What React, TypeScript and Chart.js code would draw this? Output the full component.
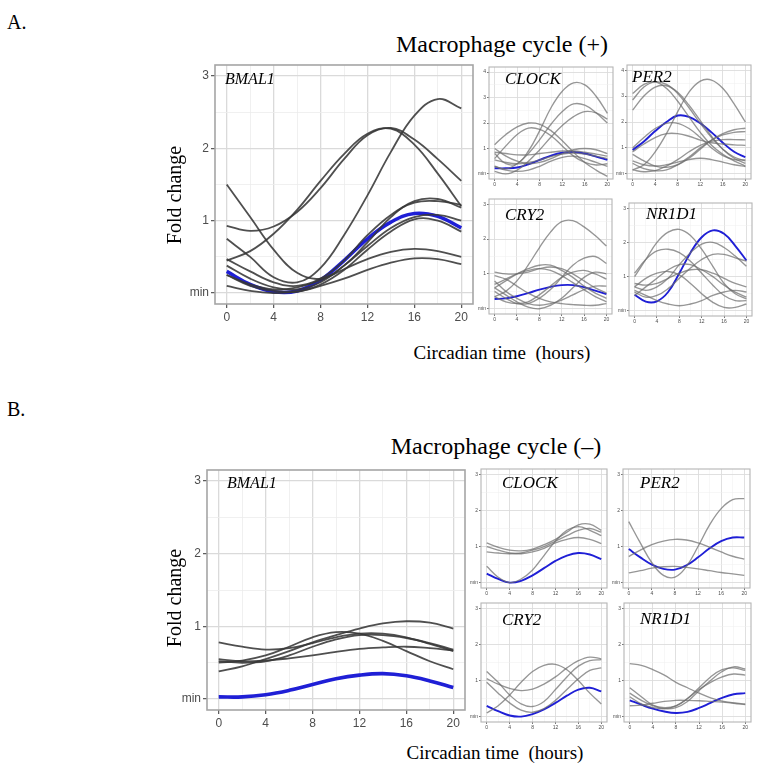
import React, { useEffect, useRef } from "react";
import { Chart, registerables } from "chart.js";
Chart.register(...registerables);

// ---------- data (fold change at circadian hours) ----------
const hours = [0, 2, 4, 6, 8, 10, 12, 14, 16, 18, 20];
const xMajorTicks = [0, 4, 8, 12, 16, 20];

// A. Macrophage cycle (+)
const aBmal1Blue = [0.3, 0.12, 0.02, 0.03, 0.18, 0.45, 0.75, 0.98, 1.1, 1.06, 0.9];
const aBmal1Grey = [
  [0.93, 0.86, 0.92, 1.12, 1.45, 1.85, 2.18, 2.28, 2.12, 1.85, 1.55],
  [0.45, 0.58, 0.82, 1.15, 1.55, 1.92, 2.2, 2.27, 2.05, 1.65, 1.2],
  [0.75, 0.5, 0.22, 0.15, 0.35, 0.8, 1.35, 1.95, 2.45, 2.68, 2.55],
  [1.5, 1.05, 0.6, 0.28, 0.2, 0.38, 0.7, 1.05, 1.27, 1.3, 1.18],
  [0.47, 0.3, 0.15, 0.1, 0.2, 0.45, 0.8, 1.08, 1.25, 1.27, 1.22],
  [0.38, 0.2, 0.08, 0.05, 0.15, 0.38, 0.65, 0.9, 1.05, 1.08, 1.0],
  [0.25, 0.1, 0.03, 0.02, 0.12, 0.32, 0.6, 0.85, 1.02, 1.0, 0.85],
  [0.25, 0.12, 0.05, 0.08, 0.18, 0.33, 0.47, 0.57, 0.61, 0.58, 0.5],
  [0.1, 0.03, 0.0, 0.02, 0.1, 0.2, 0.32, 0.42, 0.48, 0.47, 0.4],
];
const aClockBlue = [0.22, 0.22, 0.25, 0.38, 0.55, 0.72, 0.83, 0.86, 0.8, 0.68, 0.55];
const aClockGrey = [
  [0.8, 0.4, 0.4, 0.9, 1.7, 2.6, 3.25, 3.58, 3.5, 3.05, 2.38],
  [0.3, 0.2, 0.4, 0.8, 1.35, 1.95, 2.45, 2.75, 2.7, 2.4, 2.0],
  [0.1, 0.0, 0.15, 0.5, 0.95, 1.45, 1.9, 2.25, 2.45, 2.4, 2.15],
  [1.15, 1.55, 1.85, 2.0, 1.95, 1.7, 1.3, 0.85, 0.45, 0.15, -0.1],
  [0.6, 1.1, 1.55, 1.8, 1.75, 1.5, 1.1, 0.7, 0.45, 0.35, 0.4],
  [0.85, 0.8, 0.75, 0.75, 0.8, 0.85, 0.9, 0.9, 0.85, 0.78, 0.7],
  [0.55, 0.45, 0.4, 0.45, 0.55, 0.68, 0.78, 0.82, 0.78, 0.7, 0.6],
  [1.0, 0.7, 0.5, 0.4, 0.45, 0.6, 0.8, 0.95, 1.0, 0.95, 0.8],
  [0.3, 0.15, 0.1, 0.15, 0.3, 0.5, 0.65, 0.7, 0.6, 0.45, 0.3],
];
const aPer2Blue = [0.92, 1.25, 1.65, 2.0, 2.25, 2.2, 1.95, 1.6, 1.2, 0.85, 0.64];
const aPer2Grey = [
  [2.85, 3.35, 3.55, 3.45, 3.1, 2.55, 1.95, 1.4, 0.95, 0.65, 0.5],
  [2.46, 3.0, 3.35, 3.4, 3.15, 2.65, 2.05, 1.45, 0.95, 0.6, 0.4],
  [3.1, 3.45, 3.55, 3.3, 2.8, 2.2, 1.6, 1.1, 0.75, 0.5, 0.3],
  [0.15, 0.35, 0.85, 1.55, 2.4, 3.15, 3.58, 3.62, 3.3, 2.7, 2.0],
  [0.75, 0.5, 0.3, 0.25, 0.35, 0.6, 0.95, 1.3, 1.55, 1.7, 1.76],
  [0.4, 0.2, 0.12, 0.15, 0.35, 0.65, 1.0, 1.3, 1.5, 1.6, 1.63],
  [0.15, 0.08, 0.12, 0.3, 0.55, 0.85, 1.1, 1.25, 1.32, 1.32, 1.31],
  [0.85, 1.15, 1.4, 1.55, 1.55, 1.45, 1.3, 1.2, 1.15, 1.12, 1.1],
  [1.0, 1.4, 1.75, 1.95, 1.95, 1.75, 1.4, 1.0, 0.7, 0.55, 0.54],
  [0.5, 0.35, 0.3, 0.35, 0.45, 0.55, 0.6, 0.55, 0.45, 0.35, 0.28],
];
const aCry2Blue = [0.28, 0.3, 0.36, 0.45, 0.55, 0.63, 0.68, 0.68, 0.62, 0.52, 0.42];
const aCry2Grey = [
  [0.35, 0.5, 0.8, 1.25, 1.75, 2.2, 2.5, 2.53, 2.35, 2.1, 1.8],
  [0.5, 0.3, 0.15, 0.15, 0.3, 0.55, 0.9, 1.25, 1.45, 1.5, 1.3],
  [0.6, 0.8, 1.0, 1.15, 1.25, 1.25, 1.1, 0.9, 0.65, 0.45, 0.3],
  [1.05, 1.0, 1.0, 1.05, 1.15, 1.2, 1.15, 1.0, 0.8, 0.6, 0.45],
  [0.7, 0.85, 1.0, 1.1, 1.15, 1.1, 0.95, 0.75, 0.55, 0.35, 0.2],
  [0.35, 0.2, 0.15, 0.2, 0.4, 0.65, 0.9, 1.05, 1.1, 1.0, 0.85],
  [0.8, 0.5, 0.3, 0.15, 0.1, 0.15, 0.25, 0.4, 0.55, 0.65, 0.65],
  [0.6, 0.4, 0.2, 0.05, 0.0, 0.1, 0.3, 0.6, 0.9, 1.05, 1.0],
  [0.95, 0.85, 0.65, 0.45, 0.3, 0.2, 0.15, 0.12, 0.1, 0.1, 0.15],
];
const aNr1d1Blue = [0.47, 0.27, 0.28, 0.55, 1.1, 1.7, 2.15, 2.35, 2.25, 1.9, 1.47];
const aNr1d1Grey = [
  [1.0, 1.5, 2.0, 2.3, 2.38, 2.2, 1.8, 1.3, 0.8, 0.5, 0.35],
  [1.1, 1.5, 1.75, 1.8, 1.7, 1.45, 1.1, 0.75, 0.45, 0.3, 0.3],
  [0.7, 0.6, 0.7, 0.95, 1.35, 1.7, 1.95, 2.0, 1.85, 1.6, 1.3],
  [0.55, 0.4, 0.45, 0.65, 0.95, 1.25, 1.5, 1.65, 1.65, 1.55, 1.45],
  [0.8, 0.75, 0.8, 0.95, 1.1, 1.2, 1.2, 1.1, 0.95, 0.8, 0.7],
  [0.6, 0.45, 0.3, 0.2, 0.15, 0.2, 0.3, 0.45, 0.55, 0.6, 0.55],
  [0.7, 0.95, 1.1, 1.15, 1.05, 0.8, 0.5, 0.25, 0.1, 0.1, 0.2],
  [0.45, 0.7, 0.95, 1.2, 1.35, 1.35, 1.2, 1.0, 0.75, 0.55, 0.4],
];

// B. Macrophage cycle (–)
const bBmal1Blue = [0.03, 0.03, 0.06, 0.12, 0.2, 0.28, 0.33, 0.35, 0.32, 0.25, 0.16];
const bBmal1Grey = [
  [0.38, 0.45, 0.55, 0.66, 0.78, 0.88, 0.97, 1.04, 1.07, 1.05, 0.97],
  [0.78, 0.72, 0.68, 0.7, 0.77, 0.85, 0.9, 0.9, 0.85, 0.76, 0.66],
  [0.5, 0.53, 0.6, 0.72, 0.85, 0.92, 0.9, 0.8, 0.66, 0.52, 0.41],
  [0.55, 0.52, 0.53, 0.56, 0.6, 0.65, 0.69, 0.71, 0.72, 0.7, 0.67],
  [0.52, 0.5, 0.52, 0.6, 0.72, 0.82, 0.88, 0.88, 0.84, 0.77, 0.68],
];
const bClockBlue = [0.25, 0.1, 0.0, 0.05, 0.2, 0.4, 0.6, 0.75, 0.82, 0.78, 0.65];
const bClockGrey = [
  [1.1, 0.98, 0.9, 0.88, 0.93, 1.05, 1.2, 1.4, 1.6, 1.62, 1.45],
  [0.85, 0.82, 0.8, 0.82, 0.9, 1.0, 1.15, 1.3, 1.45, 1.5, 1.4],
  [1.0, 0.9, 0.82, 0.8, 0.85, 0.95, 1.1, 1.2, 1.25, 1.2, 1.08],
  [0.45, 0.15, 0.0, 0.1, 0.35, 0.75, 1.15, 1.45, 1.55, 1.45, 1.3],
];
const bPer2Blue = [0.93, 0.7, 0.5, 0.38, 0.36, 0.48, 0.7, 0.95, 1.15, 1.25, 1.25];
const bPer2Grey = [
  [1.69, 1.1, 0.55, 0.2, 0.15, 0.45, 1.0, 1.6, 2.05, 2.3, 2.33],
  [0.72, 0.9, 1.05, 1.15, 1.2, 1.18, 1.1, 0.98, 0.85, 0.73, 0.65],
  [0.27, 0.33, 0.4, 0.44, 0.45, 0.42, 0.38, 0.33, 0.28, 0.24, 0.2],
];
const bCry2Blue = [0.3, 0.15, 0.03, 0.0, 0.07, 0.2, 0.38, 0.58, 0.75, 0.8, 0.7];
const bCry2Grey = [
  [1.25, 0.95, 0.6, 0.35, 0.28, 0.42, 0.75, 1.1, 1.4, 1.55, 1.58],
  [1.05, 0.9, 0.78, 0.72, 0.76, 0.9, 1.1, 1.35, 1.55, 1.65, 1.6],
  [0.95, 0.65, 0.38, 0.18, 0.12, 0.22, 0.45, 0.75, 1.05, 1.28, 1.35],
  [0.1, 0.3, 0.6, 0.95, 1.25, 1.42, 1.45, 1.3, 1.0, 0.65, 0.35],
];
const bNr1d1Blue = [0.45, 0.33, 0.22, 0.14, 0.1, 0.13, 0.24, 0.38, 0.52, 0.62, 0.65];
const bNr1d1Grey = [
  [1.47, 1.42, 1.3, 1.15, 0.95, 0.8, 0.65, 0.52, 0.43, 0.38, 0.35],
  [0.8, 0.55, 0.32, 0.25, 0.3, 0.5, 0.8, 1.1, 1.3, 1.35, 1.28],
  [0.65, 0.45, 0.3, 0.22, 0.25, 0.42, 0.72, 1.0, 1.25, 1.38, 1.32],
  [0.3, 0.32, 0.37, 0.42, 0.45, 0.45, 0.44, 0.42, 0.4, 0.37, 0.33],
  [0.55, 0.35, 0.25, 0.22, 0.3, 0.5, 0.75, 0.95, 1.1, 1.18, 1.15],
];

// ---------- plugin: panel border ----------
const framePlugin = {
  id: "frame",
  afterDatasetsDraw(chart: any, _args: any, opts: any) {
    const { ctx, chartArea } = chart;
    ctx.save();
    ctx.strokeStyle = opts.color || "#aaa";
    ctx.lineWidth = opts.width || 1;
    ctx.strokeRect(chartArea.left, chartArea.top, chartArea.right - chartArea.left, chartArea.bottom - chartArea.top);
    ctx.restore();
  },
};

type PanelProps = {
  l: number; t: number; r: number; b: number;
  yMax: number; grey: number[][]; blue: number[]; big: boolean;
};

function Panel({ l, t, r, b, yMax, grey, blue, big }: PanelProps) {
  const ref = useRef<HTMLCanvasElement>(null);
  const yAxisW = big ? 45 : 16;
  const xAxisH = big ? 24 : 12;
  const padTop = 2;
  const padRight = 2;
  const w = r - l + yAxisW + padRight;
  const h = b - t + padTop + xAxisH;

  useEffect(() => {
    const exp = yMax * 0.05;
    const yVals: number[] = [];
    for (let v = 0; v <= yMax + 1e-9; v += 0.5) yVals.push(v);
    const xVals = hours.slice();
    const isMajorY = (v: number) => Math.abs(v - Math.round(v)) < 1e-6;
    const isMajorX = (v: number) => xMajorTicks.indexOf(v) >= 0;
    const greyColor = big ? "rgba(55,55,55,0.88)" : "rgba(110,110,110,0.72)";
    const blueColor = "#1f1fd6";
    const tickFont = { family: '"Liberation Sans", Arial, sans-serif', size: big ? 12 : 5 };
    const tickColor = "#4d4d4d";
    const majorGrid = big ? "#dadada" : "#dcdcdc";
    const minorGrid = big ? "#ececec" : "#eeeeee";
    const tl = big ? 4 : 2;

    const datasets: any[] = grey.map((g) => ({
      data: hours.map((x, i) => ({ x, y: g[i] })),
      borderColor: greyColor,
      borderWidth: big ? 1.8 : 1.35,
      pointRadius: 0,
      tension: 0.4,
      fill: false,
    }));
    datasets.push({
      data: hours.map((x, i) => ({ x, y: blue[i] })),
      borderColor: blueColor,
      borderWidth: big ? 3.6 : 1.9,
      pointRadius: 0,
      tension: 0.4,
      fill: false,
    });

    const chart = new Chart(ref.current!, {
      type: "line",
      data: { datasets },
      plugins: [framePlugin as any],
      options: {
        animation: false,
        responsive: false,
        devicePixelRatio: 1,
        events: [],
        layout: { padding: { top: padTop, right: padRight, left: 0, bottom: 0 } },
        plugins: {
          legend: { display: false },
          tooltip: { enabled: false },
          frame: { color: big ? "#a5a5a5" : "#b5b5b5", width: big ? 1.6 : 1.1 },
        } as any,
        scales: {
          x: {
            type: "linear",
            min: -1,
            max: 21,
            bounds: "data",
            afterBuildTicks: (axis: any) => {
              axis.ticks = xVals.map((v) => ({ value: v }));
            },
            afterFit: (scale: any) => {
              scale.height = xAxisH;
              scale.paddingLeft = 0;
              scale.paddingRight = 0;
            },
            border: { display: false },
            grid: {
              color: (c: any) => (c.tick && isMajorX(c.tick.value) ? majorGrid : minorGrid),
              lineWidth: (c: any) => (c.tick && isMajorX(c.tick.value) ? (big ? 1.3 : 0.9) : (big ? 0.8 : 0.5)),
              drawTicks: true,
              tickLength: tl,
              tickColor: (c: any) => (c.tick && isMajorX(c.tick.value) ? "#555" : "rgba(0,0,0,0)"),
              tickWidth: big ? 1.2 : 0.8,
            },
            ticks: {
              autoSkip: false,
              maxRotation: 0,
              minRotation: 0,
              padding: big ? 2 : 1,
              color: tickColor,
              font: tickFont,
              callback: (v: any) => (isMajorX(Number(v)) ? String(v) : ""),
            },
          },
          y: {
            type: "linear",
            min: -exp,
            max: yMax + exp,
            bounds: "data",
            afterBuildTicks: (axis: any) => {
              axis.ticks = yVals.map((v) => ({ value: v }));
            },
            afterFit: (scale: any) => {
              scale.width = yAxisW;
              scale.paddingTop = 0;
              scale.paddingBottom = 0;
            },
            border: { display: false },
            grid: {
              color: (c: any) => (c.tick && isMajorY(c.tick.value) ? majorGrid : minorGrid),
              lineWidth: (c: any) => (c.tick && isMajorY(c.tick.value) ? (big ? 1.3 : 0.9) : (big ? 0.8 : 0.5)),
              drawTicks: true,
              tickLength: tl,
              tickColor: (c: any) => (c.tick && isMajorY(c.tick.value) ? "#555" : "rgba(0,0,0,0)"),
              tickWidth: big ? 1.2 : 0.8,
            },
            ticks: {
              autoSkip: false,
              padding: big ? 2 : 1,
              color: tickColor,
              font: tickFont,
              callback: (v: any) => {
                const n = Number(v);
                if (Math.abs(n) < 1e-6) return "min";
                return isMajorY(n) ? String(Math.round(n)) : "";
              },
            },
          },
        },
      } as any,
    });
    return () => chart.destroy();
  }, []);

  return (
    <canvas
      ref={ref}
      width={w}
      height={h}
      style={{ position: "absolute", left: l - yAxisW, top: t - padTop, width: w, height: h }}
    />
  );
}

const serif = '"Liberation Serif", "Times New Roman", serif';

function Txt({ x, y, size, children, center, italic, rotate }: any) {
  const style: any = {
    position: "absolute",
    left: x,
    top: y,
    fontSize: size,
    lineHeight: 1,
    fontFamily: serif,
    fontStyle: italic ? "italic" : "normal",
    whiteSpace: "pre",
    color: "#000",
  };
  if (rotate) {
    style.transform = "translate(-50%, -50%) rotate(-90deg)";
  } else if (center) {
    style.transform = "translateX(-50%)";
  }
  return <div style={style}>{children}</div>;
}

export default function App() {
  return (
    <div style={{ position: "absolute", left: 0, top: 0, width: 759, height: 771, background: "#fff", overflow: "hidden" }}>
      {/* A */}
      <Panel l={215} t={65} r={473} b={304} yMax={3} grey={aBmal1Grey} blue={aBmal1Blue} big={true} />
      <Panel l={489} t={67} r={613} b={179} yMax={4} grey={aClockGrey} blue={aClockBlue} big={false} />
      <Panel l={627} t={65} r={751} b={179} yMax={4} grey={aPer2Grey} blue={aPer2Blue} big={false} />
      <Panel l={489} t={199} r={612} b={314} yMax={3} grey={aCry2Grey} blue={aCry2Blue} big={false} />
      <Panel l={629} t={203} r={752} b={316} yMax={3} grey={aNr1d1Grey} blue={aNr1d1Blue} big={false} />
      {/* B */}
      <Panel l={207} t={470} r={465} b={710} yMax={3} grey={bBmal1Grey} blue={bBmal1Blue} big={true} />
      <Panel l={481} t={469} r={607} b={588} yMax={3} grey={bClockGrey} blue={bClockBlue} big={false} />
      <Panel l={623} t={469} r={750} b={588} yMax={3} grey={bPer2Grey} blue={bPer2Blue} big={false} />
      <Panel l={481} t={603} r={607} b={722} yMax={3} grey={bCry2Grey} blue={bCry2Blue} big={false} />
      <Panel l={624} t={603} r={751} b={722} yMax={3} grey={bNr1d1Grey} blue={bNr1d1Blue} big={false} />

      <Txt x={7} y={12} size={20}>A.</Txt>
      <Txt x={502} y={32} size={24} center>Macrophage cycle (+)</Txt>
      <Txt x={174} y={195} size={20} rotate>Fold change</Txt>
      <Txt x={502} y={343} size={19} center>Circadian time  (hours)</Txt>
      <Txt x={225} y={70.5} size={16} italic>BMAL1</Txt>
      <Txt x={505} y={70} size={17} italic>CLOCK</Txt>
      <Txt x={632} y={68} size={17} italic>PER2</Txt>
      <Txt x={505} y={205.5} size={17} italic>CRY2</Txt>
      <Txt x={646} y={205} size={17} italic>NR1D1</Txt>

      <Txt x={7} y={399} size={20}>B.</Txt>
      <Txt x={496} y={433.5} size={24} center>Macrophage cycle (–)</Txt>
      <Txt x={174} y={598} size={20} rotate>Fold change</Txt>
      <Txt x={495} y={743} size={19} center>Circadian time  (hours)</Txt>
      <Txt x={227} y={475} size={16} italic>BMAL1</Txt>
      <Txt x={502} y={474} size={17} italic>CLOCK</Txt>
      <Txt x={640} y={474} size={17} italic>PER2</Txt>
      <Txt x={502} y={610.5} size={17} italic>CRY2</Txt>
      <Txt x={640} y={610} size={17} italic>NR1D1</Txt>
    </div>
  );
}
